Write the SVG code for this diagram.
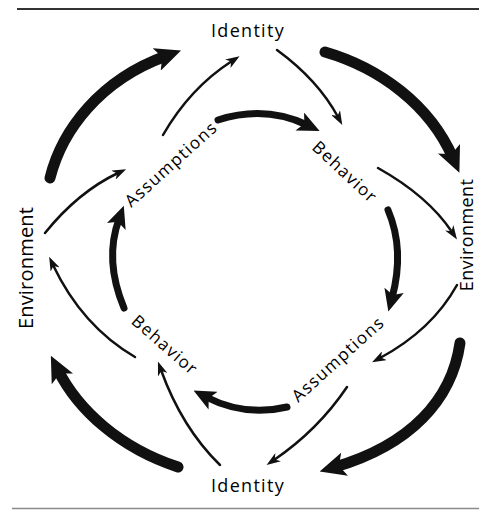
<svg xmlns="http://www.w3.org/2000/svg" width="479" height="510" viewBox="0 0 479 510">
  <style>
    .lbl { font-family: "Open Sans", "DejaVu Sans", sans-serif; fill: #000; }
    .big { font-size: 18px; letter-spacing: 1.3px; }
    .env { font-size: 20px; letter-spacing: 0.2px; }
    .env-r { font-size: 18px; letter-spacing: 0.4px; }
    .mid { font-size: 17px; letter-spacing: 1.4px; }
    .thin { fill: none; stroke: #111; stroke-width: 2.5; stroke-linecap: round; marker-end: url(#headThin); }
    .inner { fill: none; stroke: #111; stroke-width: 7; stroke-linecap: round; marker-end: url(#headInner); }
    .outer { fill: none; stroke: #111; stroke-width: 11; stroke-linecap: round; marker-end: url(#headOuter); }
  </style>
  <defs>
    <marker id="headThin" markerUnits="userSpaceOnUse" markerWidth="14" markerHeight="10" refX="5" refY="5" orient="auto">
      <path d="M0,0 L14,5 L0,10 L4,5 z" fill="#111"/>
    </marker>
    <marker id="headInner" markerUnits="userSpaceOnUse" markerWidth="22" markerHeight="20" refX="8" refY="10" orient="auto">
      <path d="M0,0 L22,10 L0,20 L5,10 z" fill="#111"/>
    </marker>
    <marker id="headOuter" markerUnits="userSpaceOnUse" markerWidth="26" markerHeight="24" refX="10" refY="12" orient="auto">
      <path d="M0,0 L26,12 L0,24 L6,12 z" fill="#111"/>
    </marker>
  </defs>

  <rect width="479" height="510" fill="#fff"/>

  <!-- page rules -->
  <line x1="17" y1="9" x2="479" y2="9" stroke="#333" stroke-width="2"/>
  <line x1="12" y1="508.5" x2="479" y2="508.5" stroke="#8a8a8a" stroke-width="1.5"/>

  <!-- nodes -->
  <g id="identity-top"><text class="lbl big" x="248" y="37" text-anchor="middle">Identity</text></g>
  <g id="identity-bottom"><text class="lbl big" x="248" y="492" text-anchor="middle">Identity</text></g>
  <g id="environment-left"><text class="lbl env" transform="translate(33,268) rotate(-90)" text-anchor="middle">Environment</text></g>
  <g id="environment-right"><text class="lbl env-r" transform="translate(473,235) rotate(-90)" text-anchor="middle">Environment</text></g>
  <g id="assumptions-upper"><text class="lbl mid" transform="translate(171,164) rotate(-42)" text-anchor="middle" dy="0.35em">Assumptions</text></g>
  <g id="behavior-upper"><text class="lbl mid" transform="translate(345,172) rotate(43)" text-anchor="middle" dy="0.35em">Behavior</text></g>
  <g id="behavior-lower"><text class="lbl mid" transform="translate(165,345) rotate(41)" text-anchor="middle" dy="0.35em">Behavior</text></g>
  <g id="assumptions-lower"><text class="lbl mid" transform="translate(338,359) rotate(-42)" text-anchor="middle" dy="0.35em">Assumptions</text></g>

  <!-- connectors -->
  <g id="connectors">
    <!-- outer ring -->
    <path class="outer" d="M50 178 C62 130 100 80 166 56"/>
    <path class="outer" d="M325 52 C380 68 430 105 453 158"/>
    <path class="outer" d="M460 343 C452 400 410 445 335 467"/>
    <path class="outer" d="M178 467 C120 448 78 410 58 370"/>
    <!-- middle ring -->
    <path class="thin" d="M163 135 Q190 88 232 61"/>
    <path class="thin" d="M277 50 Q318 80 338 117"/>
    <path class="thin" d="M378 168 Q428 196 452 232"/>
    <path class="thin" d="M457 285 Q432 330 380 358"/>
    <path class="thin" d="M347 387 Q318 430 274 460"/>
    <path class="thin" d="M220 465 Q182 428 161 370"/>
    <path class="thin" d="M135 357 Q82 326 53 265"/>
    <path class="thin" d="M45 233 Q78 192 118 173"/>
    <!-- inner ring -->
    <path class="inner" d="M218 120 Q265 105 307 125"/>
    <path class="inner" d="M388 210 Q405 250 392 298"/>
    <path class="inner" d="M287 407 Q245 417 206 397"/>
    <path class="inner" d="M124 308 Q104 260 119 219"/>
  </g>
</svg>
